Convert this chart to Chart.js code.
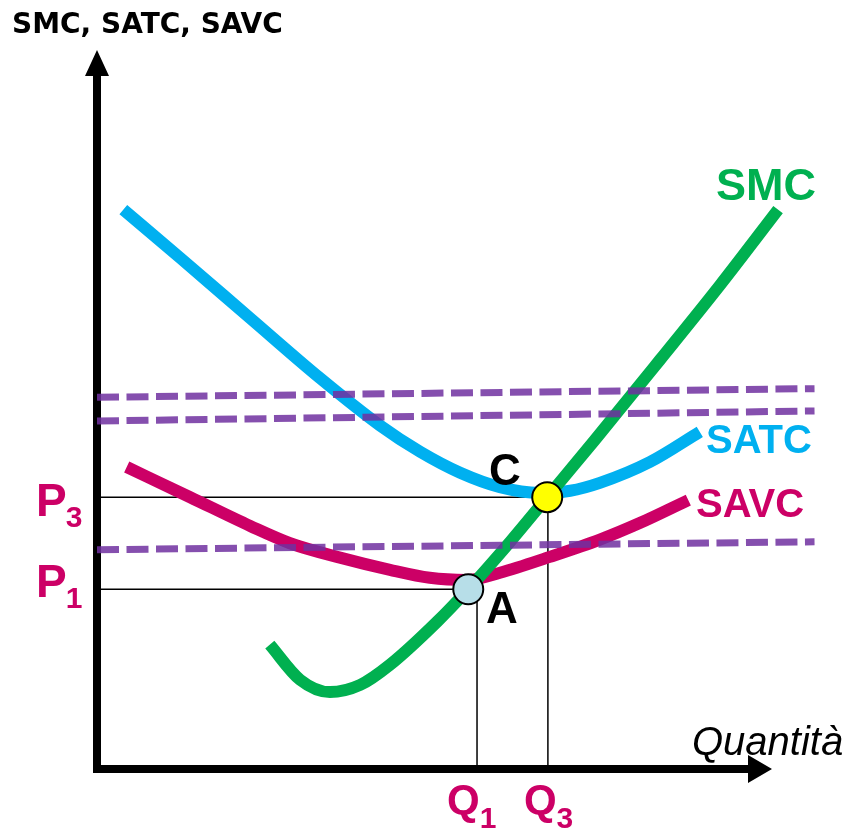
<!DOCTYPE html>
<html>
<head>
<meta charset="utf-8">
<script src="https://cdn.jsdelivr.net/npm/chart.js@4"></script>
<style>
  html, body { margin: 0; padding: 0; background: #fff; }
</style>
</head>
<body>
<canvas id="myChart" width="849" height="832"></canvas>
<script>
// quantity runs 0..100 along the x axis, cost 0..100 up the y axis
const smcQ    = [25.6, 30.1, 34.5, 39.0, 43.4, 50.4, 55.0, 61.2, 66.7, 73.8, 83.4, 92.3, 100.9]
const smcCost = [17.3, 12.4, 10.7, 11.7, 14.5, 20.5, 25.0, 31.6, 37.8, 45.8, 56.9, 67.3, 77.8]

const satcQ    = [3.9, 12.3, 22.7, 33.0, 41.9, 47.9, 53.8, 59.7, 65.6, 70.1, 74.5, 81.9, 89.3]
const satcCost = [77.8, 71.1, 62.7, 54.4, 47.8, 44.1, 41.2, 39.2, 38.4, 38.7, 39.8, 42.7, 46.9]

const savcQ    = [4.4, 13.8, 22.7, 28.6, 36.0, 43.4, 49.3, 54.8, 59.7, 67.1, 74.5, 80.4, 87.6]
const savcCost = [42.0, 37.8, 33.8, 31.4, 29.4, 27.7, 26.6, 26.3, 27.3, 29.5, 31.9, 34.2, 37.4]

// the three dashed price lines (start and end)
const dashQ = [0, 106.3]
const dashTop    = [51.7, 52.9]
const dashMiddle = [48.4, 49.8]
const dashLow    = [30.5, 31.6]

// equilibrium points
const pointC = {x: 66.7, y: 37.8}
const pointA = {x: 55.0, y: 25.0}
const q1 = 56.3
const q3 = 66.8
const p1 = 25.0
const p3 = 37.8

const canvas = document.getElementById('myChart')
const toPoints = (xs, ys) => xs.map((x, i) => ({x, y: ys[i]}))

const green = '#00B050'
const blue = '#00B0F0'
const magenta = '#CC0066'
const purple = 'rgba(112, 48, 160, 0.85)'

function curve(xs, ys, color) {
    return {
        data: toPoints(xs, ys),
        showLine: true,
        borderColor: color,
        borderWidth: 12,
        cubicInterpolationMode: 'monotone',
        pointRadius: 0,
        clip: false
    }
}

function dashed(ys) {
    return {
        data: toPoints(dashQ, ys),
        showLine: true,
        borderColor: purple,
        borderWidth: 7,
        borderDash: [22, 7.5],
        pointRadius: 0,
        clip: false
    }
}

function guide(pts) {
    return {
        data: pts,
        showLine: true,
        borderColor: '#000',
        borderWidth: 1.5,
        pointRadius: 0,
        clip: false
    }
}

function dot(pt, color) {
    return {
        data: [pt],
        showLine: false,
        pointRadius: 15,
        pointBorderWidth: 2,
        pointBackgroundColor: color,
        pointBorderColor: '#000',
        clip: false
    }
}

// axes with arrow heads, under everything else
const axesPlugin = {
    id: 'axes',
    beforeDatasetsDraw(chart) {
        const {ctx, scales: {x, y}} = chart
        const x0 = x.getPixelForValue(0)
        const y0 = y.getPixelForValue(0)
        const xTip = x.getPixelForValue(100)
        const yTip = y.getPixelForValue(100)
        ctx.save()
        ctx.strokeStyle = '#000'
        ctx.fillStyle = '#000'
        ctx.lineWidth = 8
        ctx.beginPath()
        ctx.moveTo(x0, y0 + 4)
        ctx.lineTo(x0, yTip + 24)
        ctx.moveTo(x0 - 4, y0)
        ctx.lineTo(xTip - 22, y0)
        ctx.stroke()
        ctx.beginPath()
        ctx.moveTo(x0, yTip)
        ctx.lineTo(x0 - 12, yTip + 26)
        ctx.lineTo(x0 + 12, yTip + 26)
        ctx.closePath()
        ctx.moveTo(xTip, y0)
        ctx.lineTo(xTip - 24, y0 - 14)
        ctx.lineTo(xTip - 24, y0 + 14)
        ctx.closePath()
        ctx.fill()
        ctx.restore()
    }
}

const labelPlugin = {
    id: 'labels',
    afterDatasetsDraw(chart) {
        const {ctx, scales: {x, y}} = chart
        ctx.save()
        ctx.textBaseline = 'alphabetic'
        ctx.textAlign = 'left'

        ctx.fillStyle = '#000'
        ctx.font = 'bold 28px "DejaVu Sans"'
        ctx.fillText('SMC, SATC, SAVC', 12, 33)

        ctx.font = 'italic 40px "Liberation Sans"'
        ctx.fillText('Quantità', 692, 755)

        ctx.font = 'bold 44px "Liberation Sans"'
        ctx.fillText('C', 489, 485)
        ctx.fillText('A', 486, 623)

        ctx.fillStyle = green
        ctx.font = 'bold 45px "Liberation Sans"'
        ctx.fillText('SMC', 716, 200)

        ctx.fillStyle = blue
        ctx.font = 'bold 40px "Liberation Sans"'
        ctx.fillText('SATC', 706, 453)

        ctx.fillStyle = magenta
        ctx.fillText('SAVC', 696, 517)

        // price and quantity labels with subscripts
        function sub(main, small, left, base, bigSize, smallSize, gap, drop) {
            ctx.font = 'bold ' + bigSize + 'px "Liberation Sans"'
            ctx.fillText(main, left, base)
            const w = ctx.measureText(main).width
            ctx.font = 'bold ' + smallSize + 'px "Liberation Sans"'
            ctx.fillText(small, left + w + gap, base + drop)
        }
        const p3y = y.getPixelForValue(p3)
        const p1y = y.getPixelForValue(p1)
        sub('P', '3', 36, p3y + 19, 46, 30, -1, 11)
        sub('P', '1', 36, p1y + 8, 46, 30, -1, 11)
        const q1x = x.getPixelForValue(q1)
        const q3x = x.getPixelForValue(q3)
        sub('Q', '1', q1x - 30, 814, 42, 30, 0, 14)
        sub('Q', '3', q3x - 24, 814, 42, 30, 0, 14)
        ctx.restore()
    }
}

// first dataset is drawn on top
const config = {
    type: 'scatter',
    data: {
        datasets: [
            dot(pointC, '#FFFF00'),
            dot(pointA, '#B7DEE8'),
            dashed(dashTop),
            dashed(dashMiddle),
            dashed(dashLow),
            curve(smcQ, smcCost, green),
            curve(satcQ, satcCost, blue),
            curve(savcQ, savcCost, magenta),
            guide([{x: 0, y: p3}, {x: pointC.x, y: p3}]),
            guide([{x: q3, y: 0}, {x: q3, y: p3}]),
            guide([{x: 0, y: p1}, {x: pointA.x, y: p1}]),
            guide([{x: q1, y: 0}, {x: q1, y: p1}])
        ]
    },
    options: {
        responsive: false,
        animation: false,
        events: [],
        layout: {
            autoPadding: false,
            padding: {left: 97, right: 9.5, top: 50, bottom: 63}
        },
        scales: {
            x: {type: 'linear', min: 0, max: 110, display: false},
            y: {type: 'linear', min: 0, max: 100, display: false}
        },
        plugins: {
            legend: {display: false},
            tooltip: {enabled: false}
        }
    },
    plugins: [axesPlugin, labelPlugin]
}

const myChart = new Chart(canvas, config)
</script>
</body>
</html>
